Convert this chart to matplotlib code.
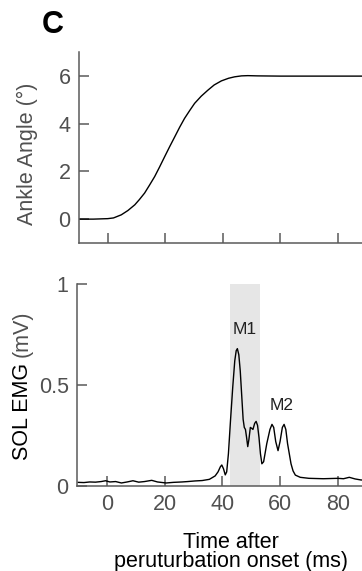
import matplotlib
matplotlib.use("Agg")
import matplotlib.pyplot as plt

plt.rcParams['font.family'] = ['Liberation Sans', 'DejaVu Sans']

# Ankle angle trace (time ms, degrees)
angle_t = [-10, -5, 0, 2, 4.7, 7, 9.4, 11, 12.8, 14.5, 16.3, 18, 19.8, 21.5, 23.3,
           25, 26.7, 28.5, 30.2, 32.5, 34.8, 37, 39.5, 42, 44.1, 46.5, 48.7, 52,
           60, 70, 80, 95]
angle_v = [0, 0, 0.02, 0.05, 0.18, 0.36, 0.6, 0.82, 1.09, 1.42, 1.78, 2.18, 2.62,
           3.03, 3.45, 3.85, 4.22, 4.55, 4.85, 5.15, 5.40, 5.62, 5.79, 5.9, 5.96,
           6.0, 6.01, 6.0, 5.99, 5.99, 5.99, 5.99]

# SOL EMG trace (time ms, mV)
emg_t = [-10, -8, -6, -4, -2, -0.5, 1, 3, 5, 7, 9, 11, 13, 15.5, 17.5, 20.5, 23,
         26, 28, 30.5, 33, 35.5, 37.5, 38.5, 39.3, 39.8, 40.4, 41, 41.5, 42.1,
         42.8, 43.6, 44.3, 44.8, 45.2, 45.7, 46.2, 46.7, 47.2, 47.6, 48.0, 48.4,
         48.8, 49.2, 49.7, 50.2, 50.6, 51.2, 51.7, 52.2, 52.7, 53.2, 53.7, 54.3,
         55.4, 56.5, 57.2, 57.8, 58.5, 59.3, 60.0, 60.8, 61.4, 62.0, 62.6, 63.2,
         63.8, 64.5, 65.3, 67, 70, 75, 80, 82, 84, 86, 88, 90, 95]
emg_v = [0.018, 0.017, 0.02, 0.019, 0.022, 0.026, 0.02, 0.022, 0.015, 0.02, 0.026,
         0.019, 0.022, 0.028, 0.02, 0.015, 0.018, 0.02, 0.022, 0.025, 0.027, 0.033,
         0.05, 0.07, 0.095, 0.104, 0.085, 0.055, 0.07, 0.16, 0.32, 0.49, 0.62,
         0.67, 0.68, 0.65, 0.57, 0.45, 0.33, 0.29, 0.28, 0.24, 0.195, 0.23, 0.29,
         0.285, 0.28, 0.31, 0.32, 0.30, 0.24, 0.16, 0.11, 0.12, 0.21, 0.28, 0.305,
         0.29, 0.22, 0.175, 0.22, 0.29, 0.305, 0.28, 0.21, 0.16, 0.11, 0.075,
         0.054, 0.043, 0.038, 0.036, 0.038, 0.036, 0.043, 0.035, 0.03, 0.028, 0.027]

m1_window = (42.5, 53.0)
x_ticks = [0, 20, 40, 60, 80]
angle_ticks = [0, 2, 4, 6]
emg_ticks = [0, 0.5, 1]
emg_tick_labels = ['0', '0.5', '1']

W, H = 362, 571
fig = plt.figure(figsize=(W / 100, H / 100), dpi=100)

gray = '#505050'
spine_gray = '#5a5a5a'
fs = 15.5

def px_axes(left, top, right, bottom):
    return fig.add_axes([left / W, (H - bottom) / H, (right - left) / W, (bottom - top) / H])

def style(ax):
    for s in ['top', 'right']:
        ax.spines[s].set_visible(False)
    for s in ['left', 'bottom']:
        ax.spines[s].set_color(spine_gray)
        ax.spines[s].set_linewidth(1.1)
    ax.tick_params(direction='in', length=7, width=1.1, color=spine_gray,
                   labelcolor=gray, labelsize=fs, pad=6)

# Top: ankle angle
ax1 = px_axes(79, 52, 381, 243)
ax1.plot(angle_t, angle_v, color='black', lw=1.0)
ax1.set_xlim(-10, 95)
ax1.set_ylim(-1, 7)
ax1.set_yticks(angle_ticks)
ax1.set_xticks(x_ticks)
ax1.set_xticklabels([])
style(ax1)

# Bottom: EMG
ax2 = px_axes(77, 284, 381, 486)
ax2.axvspan(m1_window[0], m1_window[1], color='#e6e6e6', lw=0, zorder=0)
ax2.plot(emg_t, emg_v, color='black', lw=1.0)
ax2.set_xlim(-10.4, 95)
ax2.set_ylim(0, 1)
ax2.set_yticks(emg_ticks)
ax2.set_yticklabels(emg_tick_labels)
ax2.set_xticks(x_ticks)
style(ax2)
ax2.text(47.8, 0.75, 'M1', ha='center', va='baseline', fontsize=12.5, color='#222222')
ax2.text(60.6, 0.376, 'M2', ha='center', va='baseline', fontsize=12.5, color='#222222')

# Labels
fig.text(27.5 / W, (H - 153.5) / H, 'Ankle Angle (°)', rotation=90, ha='center',
         va='center', fontsize=fs, color=gray)
t_sol = fig.text(22.5 / W, (H - 460) / H, 'SOL EMG', rotation=90, ha='center',
                 va='bottom', fontsize=fs, color='black')
fig.canvas.draw()
bb = t_sol.get_window_extent()
space_px = 0.278 * fs * 100 / 72
fig.text(22.5 / W, (bb.y1 + space_px) / H, '(mV)', rotation=90, ha='center',
         va='bottom', fontsize=fs, color=gray)
fig.text(231 / W, (H - 532) / H, 'Time after\nperuturbation onset (ms)', ha='center',
         va='top', fontsize=fs, color='black', linespacing=0.88)
fig.text(42 / W, (H - 33) / H, 'C', ha='left', va='baseline', fontsize=22,
         fontweight='bold', color='black')

fig.savefig('out.png', dpi=100)
